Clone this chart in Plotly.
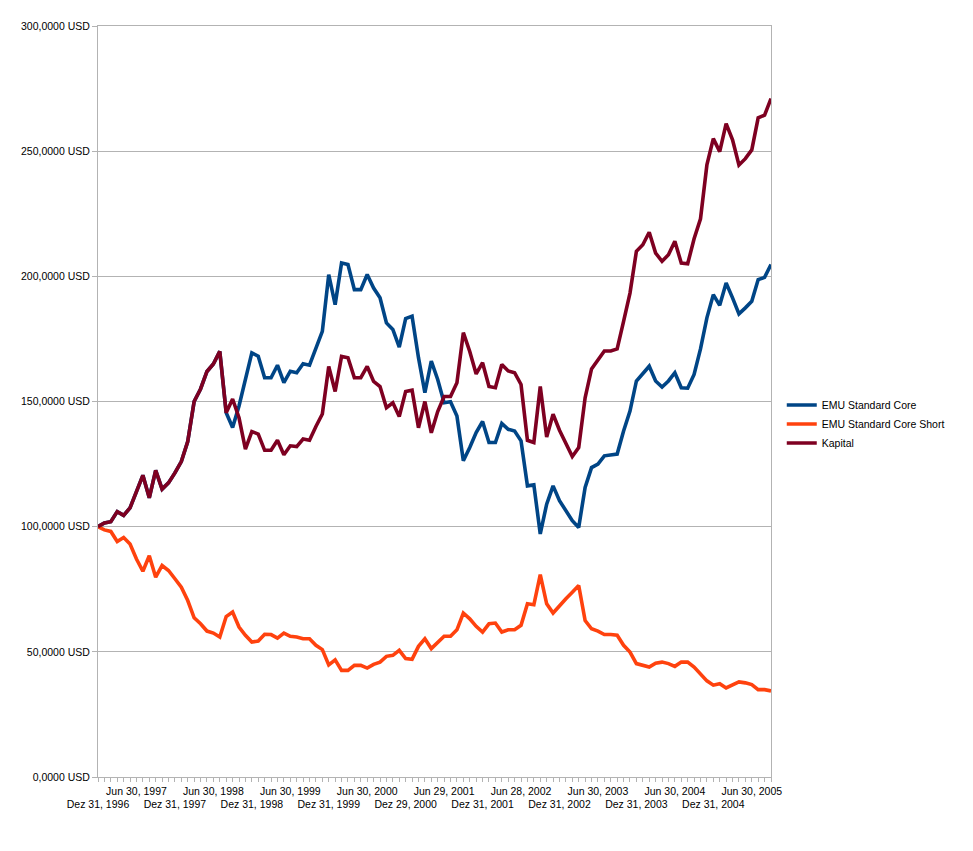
import plotly.graph_objects as go

# ---- data ----
n_points = 106  # monthly closes, Dez 1996 .. Sep 2005

tick_positions = [0, 6, 12, 18, 24, 30, 36, 42, 48, 54, 60, 66, 72, 78, 84, 90, 96, 102]
tick_labels = ["Dez 31, 1996", "Jun 30, 1997", "Dez 31, 1997", "Jun 30, 1998",
               "Dez 31, 1998", "Jun 30, 1999", "Dez 31, 1999", "Jun 30, 2000",
               "Dez 29, 2000", "Jun 29, 2001", "Dez 31, 2001", "Jun 28, 2002",
               "Dez 31, 2002", "Jun 30, 2003", "Dez 31, 2003", "Jun 30, 2004",
               "Dez 31, 2004", "Jun 30, 2005"]

y_ticks = [0, 50, 100, 150, 200, 250, 300]
y_labels = ["0,0000 USD", "50,0000 USD", "100,0000 USD", "150,0000 USD",
            "200,0000 USD", "250,0000 USD", "300,0000 USD"]

kapital = [100, 101.5, 102, 106, 104.5, 107.5, 114, 120.5, 111.5, 122.5,
           115, 117.5, 121.5, 126, 134, 150, 155, 162, 165, 170,
           145.5, 151, 143.5, 131, 138, 137, 130.5, 130.5, 134.5, 128.7,
           132.3, 132, 135, 134.5, 140, 145, 164, 154, 168, 167.5,
           159.5, 159.5, 164, 158, 156, 147.5, 149.5, 144, 154, 154.5,
           139.5, 150, 137.5, 146, 152, 152, 157.5, 177.5, 170, 161,
           165.5, 156, 155.5, 164.8, 162.2, 161.5, 156.8, 134.5, 133.6, 156,
           135.8, 144.9, 138.5, 133.6, 128, 131.6, 151.5, 163, 166.5, 170.2,
           170.2, 171, 182, 193.3, 210, 212.6, 217.6, 209.3, 206, 208.6,
           214, 205.3, 205, 215, 223, 244.5, 255, 249.8, 261, 254.5,
           244.5, 247, 250.5, 263.3, 264.4, 271]

core = [100, 101.5, 102, 106, 104.5, 107.5, 114, 120.5, 111.5, 122.5,
        115, 117.5, 121.5, 126, 134, 150, 155, 162, 165, 170,
        145.5, 139.6, 148.2, 158.8, 169.4, 168.1, 159.5, 159.5, 164.5, 157.5,
        162.1, 161.5, 165.1, 164.5, 171, 178, 200.7, 188.7, 205.3, 204.7,
        194.7, 194.7, 200.7, 195.3, 191.4, 181.4, 178.8, 171.7, 183.1, 184.1,
        167.5, 153.5, 166.1, 158.8, 149.5, 149.9, 144.2, 126.3, 131.6, 137.6,
        142, 133.6, 133.6, 141.2, 138.9, 138.2, 134.3, 116.3, 116.7, 97.1,
        109, 116.3, 110.4, 106.4, 102.4, 99.7, 115.7, 123.6, 125, 128.3,
        128.7, 129, 138.2, 146.2, 158.2, 161.1, 164.1, 158.2, 155.8, 158.2,
        161.5, 155.5, 155.3, 160.8, 171, 183.4, 192.7, 188.4, 197.3, 191.4,
        185, 187.4, 190, 198.7, 199.6, 204.7]

core_short = [100, 98.7, 98.1, 94.1, 95.7, 93.1, 87.1, 82.2, 88.4, 79.8,
              84.5, 82.5, 79.2, 75.8, 70.5, 63.6, 61.2, 58.3, 57.5, 55.9,
              64.1, 65.9, 59.9, 56.6, 53.9, 54.3, 57, 56.9, 55.5, 57.5,
              56.2, 55.9, 55.2, 55.2, 52.6, 50.9, 44.8, 46.8, 42.6, 42.6,
              44.6, 44.6, 43.5, 45, 45.9, 48.2, 48.6, 50.6, 47.3, 47,
              52.2, 55.2, 51.3, 53.9, 56.2, 56.2, 58.8, 65.5, 63.2, 60.2,
              57.9, 61.2, 61.5, 57.9, 58.8, 58.8, 60.6, 69.2, 68.8, 80.8,
              69.2, 65.5, 68.5, 71.2, 73.8, 76.5, 62.5, 59.2, 58.3, 56.9,
              56.9, 56.6, 52.6, 49.9, 45.3, 44.6, 43.9, 45.5, 45.9, 45.3,
              44.2, 45.9, 45.9, 43.9, 41.3, 38.4, 36.7, 37.3, 35.6, 37,
              38, 37.6, 36.9, 34.9, 34.9, 34.4]

series_names = ["EMU Standard Core", "EMU Standard Core Short", "Kapital"]
series_colors = ["#004586", "#ff420e", "#7e0021"]

# ---- figure ----
x = list(range(n_points))
# stagger labels: Jun on the first row, Dez on the second row
tick_text = [("<br>" + t) if t.startswith("Dez") else t for t in tick_labels]

FONT = "Liberation Sans, Arial, sans-serif"
GRID = "#b3b3b3"

fig = go.Figure()
for name, vals, col in zip(series_names, [core, core_short, kapital], series_colors):
    fig.add_trace(go.Scatter(x=x, y=vals, mode="lines", name=name,
                             line=dict(color=col, width=3.6)))

fig.update_layout(
    width=965, height=843,
    margin=dict(l=90, r=202, t=16, b=74),
    paper_bgcolor="white", plot_bgcolor="white",
    font=dict(family=FONT, size=10.5, color="black"),
    showlegend=True,
    legend=dict(x=1.016, xanchor="left", y=0.47, yanchor="middle",
                font=dict(size=10.5), itemwidth=30, tracegroupgap=0,
                bgcolor="rgba(0,0,0,0)"),
)
fig.update_xaxes(
    range=[0, n_points - 1], tickmode="array", tickvals=tick_positions,
    ticktext=tick_text, tickangle=0, ticks="outside", ticklen=4,
    tickcolor=GRID, showgrid=False, showline=True, linecolor=GRID,
    mirror=True, zeroline=False, tickfont=dict(size=10.5),
    minor=dict(ticks="outside", ticklen=4, tickcolor=GRID, dtick=1, tick0=0,
               showgrid=False),
)
fig.update_yaxes(
    range=[0, 300], tickmode="array", tickvals=y_ticks, ticktext=y_labels,
    ticks="outside", ticklen=5, tickcolor=GRID, showgrid=True, gridcolor=GRID,
    gridwidth=1, showline=True, linecolor=GRID, mirror=True, zeroline=False,
    tickfont=dict(size=10.5),
)

fig.write_html("out.html")
